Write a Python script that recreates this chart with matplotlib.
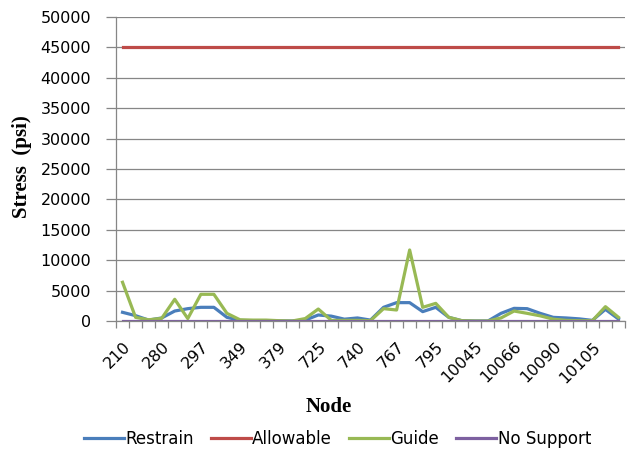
import matplotlib.pyplot as plt
import numpy as np

# nodos (solo cada tercero aparece en el eje)
nodos = ['210', '220', '270', '280', '290', '295', '297', '300', '340',
         '349', '350', '370', '379', '380', '720', '725', '730', '735',
         '740', '750', '760', '767', '770', '790', '795', '800', '10040',
         '10045', '10050', '10060', '10066', '10070', '10080', '10090', '10095', '10100',
         '10105', '10110', '10120']

restrain = [1430, 880, 150, 500, 1640, 2030, 2250, 2250, 600,
            100, 50, 50, 0, 0, 150, 990, 800, 300,
            500, 150, 2250, 3020, 3020, 1540, 2250, 600, 50,
            0, 0, 1260, 2080, 2030, 1260, 600, 500, 350,
            100, 1920, 330]

guide = [6370, 600, 200, 440, 3570, 400, 4390, 4390, 1260,
         200, 150, 150, 50, 0, 400, 1970, 100, 100,
         100, 50, 2030, 1810, 11680, 2250, 2900, 600, 50,
         0, 0, 500, 1640, 1260, 850, 300, 100, 50,
         50, 2360, 600]

allowable = [45000] * len(nodos)
no_support = [0] * len(nodos)

x = np.arange(len(nodos))

fig = plt.figure(figsize=(6.27, 4.54), dpi=100)
ax = fig.add_axes([116/627, 1 - 321/454, 509/627, 304/454])

ax.plot(x, restrain, color='#4A7EBB', linewidth=2.3, label='Restrain')
ax.plot(x, allowable, color='#BE4B48', linewidth=2.3, label='Allowable')
ax.plot(x, guide, color='#98B954', linewidth=2.3, label='Guide')
ax.plot(x, no_support, color='#7D60A0', linewidth=2.3, label='No Support')

ax.set_xlim(-0.5, len(nodos) - 0.5)
ax.set_ylim(0, 50000)
ax.set_yticks(np.arange(0, 50001, 5000))
ax.yaxis.grid(True, color='#868686', linewidth=0.9)
ax.set_axisbelow(True)

# ticks del eje x en los limites de categoria, etiquetas cada 3
ax.set_xticks(np.arange(len(nodos) + 1) - 0.5)
ax.set_xticklabels([])
ax.set_xticks(x[::3], minor=True)
ax.set_xticklabels(nodos[::3], minor=True, rotation=45, ha='right',
                   rotation_mode='anchor', fontsize=11.5)
ax.tick_params(axis='x', which='minor', length=0, pad=13)
ax.tick_params(axis='x', which='major', length=5, color='#868686', width=0.9)
ax.tick_params(axis='y', length=7, color='#868686', width=0.9, pad=11, labelsize=11.5)

for s in ['top', 'right']:
    ax.spines[s].set_visible(False)
for s in ['left', 'bottom']:
    ax.spines[s].set_color('#868686')
    ax.spines[s].set_linewidth(0.9)

ax.set_ylabel('Stress  (psi)', fontfamily='Liberation Serif', fontweight='bold', fontsize=15)
ax.yaxis.set_label_coords(-0.165, 0.507)
ax.set_xlabel('Node', fontfamily='Liberation Serif', fontweight='bold', fontsize=15)
ax.xaxis.set_label_coords(0.418, -0.249)

fig.legend(loc='lower center', bbox_to_anchor=(0.538, -0.02), ncol=4, frameon=False,
           fontsize=12, handlelength=2.4, handletextpad=0.1, columnspacing=1.0)

plt.savefig('out.png', dpi=100)
